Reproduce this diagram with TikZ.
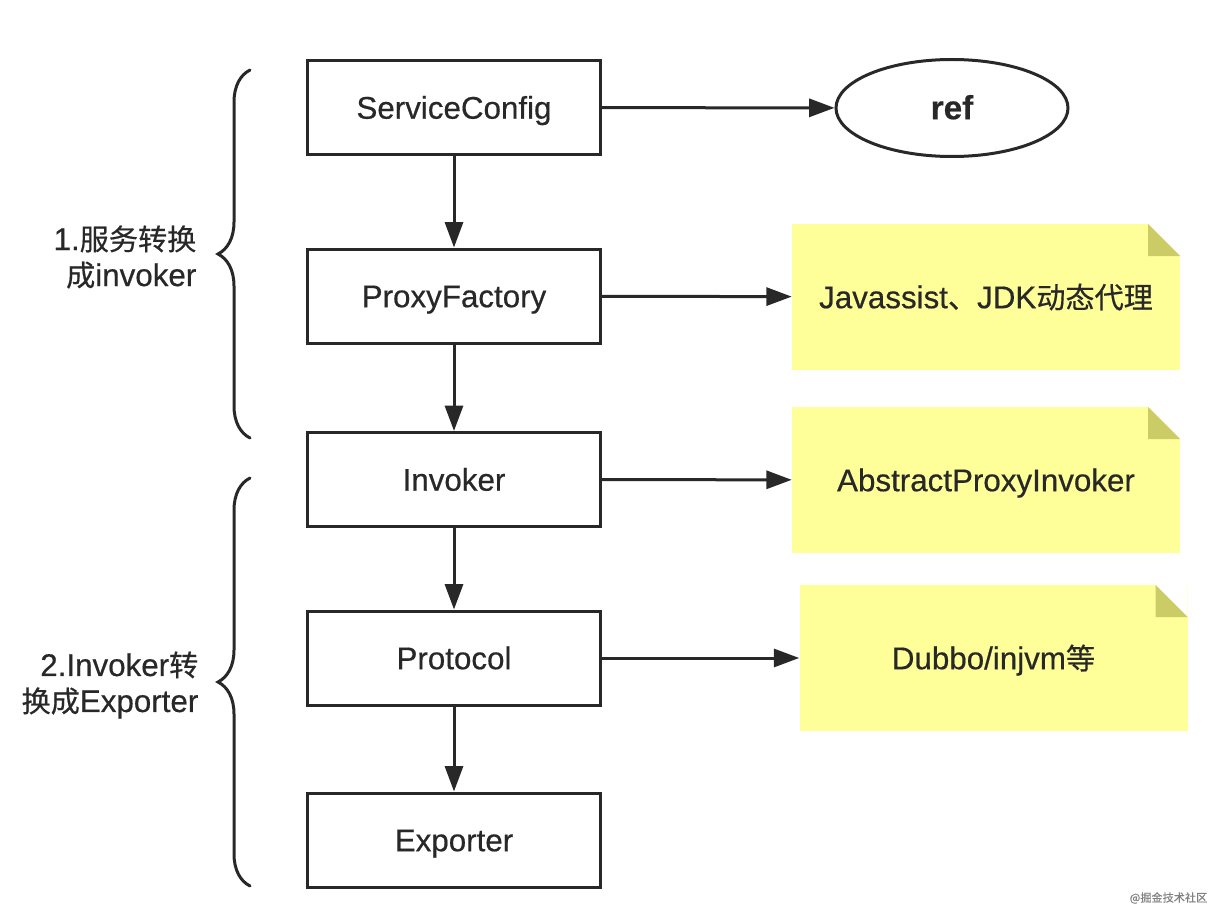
\documentclass[tikz,border=0pt]{standalone}
\usepackage{fontspec}
\setmainfont[FakeBold=0.5]{Liberation Sans}
\newfontfamily\cjk[Scale=0.93, FakeBold=0.5]{Noto Sans CJK SC}
\usetikzlibrary{arrows.meta, shapes.geometric, decorations.pathreplacing}
\definecolor{linegray}{RGB}{40,40,40}
\definecolor{noteyellow}{RGB}{255,255,153}
\definecolor{notefold}{RGB}{204,204,102}

\begin{document}
\begin{tikzpicture}[
	x=0.75pt, y=-0.75pt,
	every node/.style={font=\fontsize{23.5}{27}\selectfont, text=linegray},
	oneline/.style={text height=16.8pt, text depth=0pt},
	stage/.style={rectangle, oneline, draw=linegray, line width=2.25pt, minimum width=219.75pt, minimum height=70.5pt},
	target/.style={ellipse, oneline, draw=linegray, line width=2.25pt, minimum width=174pt, minimum height=72.75pt, font=\fontsize{25}{30}\selectfont\bfseries},
	note/.style={rectangle, oneline, fill=noteyellow, minimum width=291pt, minimum height=109.5pt, path picture={
		\fill[white] ([xshift=-24pt]path picture bounding box.north east) -- (path picture bounding box.north east) -- ([yshift=-24pt]path picture bounding box.north east) -- cycle;
		\fill[notefold] ([xshift=-24pt]path picture bounding box.north east) -- ([xshift=-24pt, yshift=-24pt]path picture bounding box.north east) -- ([yshift=-24pt]path picture bounding box.north east) -- cycle;
	}},
	flow/.style={draw=linegray, line width=2.25pt, -{Triangle[length=19pt, width=13.5pt]}},
	group/.style={draw=linegray, line width=2.25pt, line cap=round, decorate, decoration={brace, amplitude=24pt}},
	side/.style={anchor=east, align=right},
]
	\useasboundingbox (0,0) rectangle (1228,920);

	% Export chain, top to bottom
	\node[stage] (sc) at (454,107.5) {ServiceConfig};
	\node[stage] (pf) at (454,296) {ProxyFactory};
	\node[stage] (inv) at (454,479.5) {Invoker};
	\node[stage] (prot) at (454,658) {Protocol};
	\node[stage] (exp) at (454,840) {Exporter};

	% What each step refers to
	\node[target] (ref) at (952,108) {ref};
	\node[note] (jav) at (986,297) {Javassist{\cjk 、}JDK{\cjk 动态代理}};
	\node[note] (api) at (986,480) {AbstractProxyInvoker};
	\node[note] (dub) at (993.5,658) {Dubbo/injvm{\cjk 等}};

	% Connectors
	\foreach \a/\b in {sc/pf, pf/inv, inv/prot, prot/exp, sc/ref, pf/jav, inv/api, prot/dub} {
		\draw[flow] (\a) -- (\b);
	}

	% Braces and the two phases
	\draw[group] (250,438) -- (250,70);
	\draw[group] (250,886) -- (250,478);
	\node[side] (phase1) at (201,257) {1.{\cjk 服务转换}\\{\cjk 成}invoker};
	\node[side] (phase2) at (203,685) {2.Invoker{\cjk 转}\\{\cjk 换成}Exporter};

	\node[anchor=east, font=\cjk\fontsize{9}{10}\selectfont, text=gray] (mark) at (1212,898) {@掘金技术社区};
\end{tikzpicture}
\end{document}
